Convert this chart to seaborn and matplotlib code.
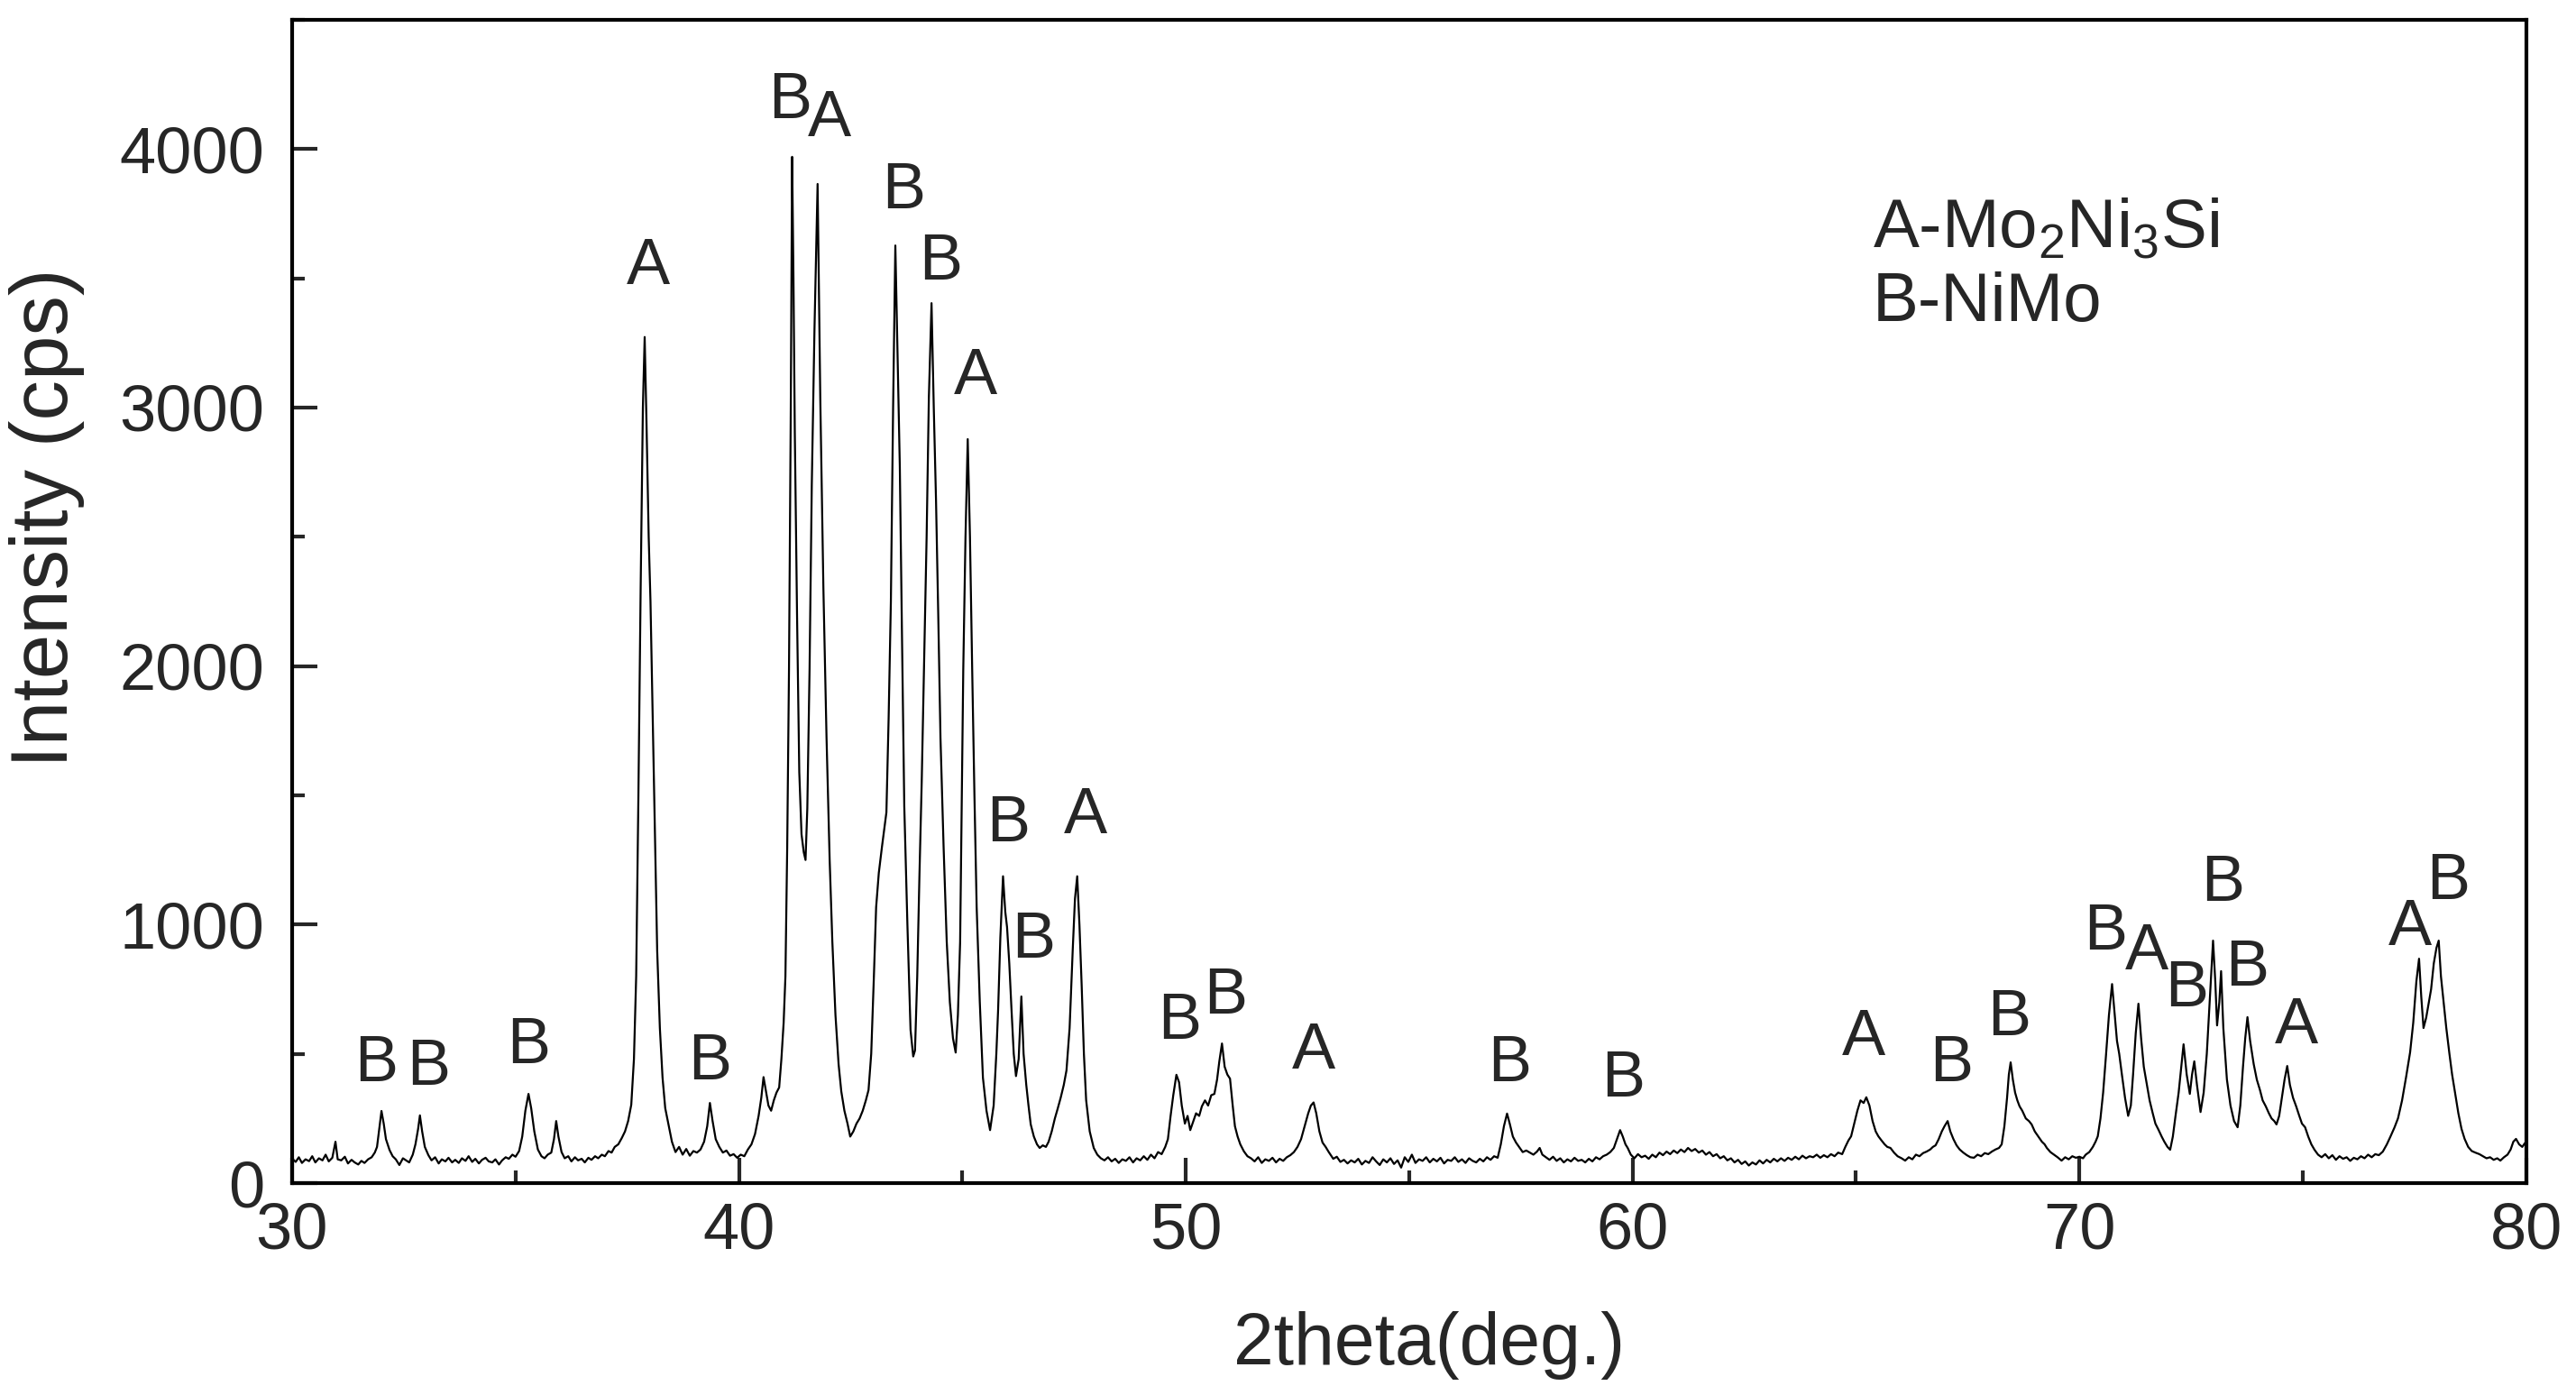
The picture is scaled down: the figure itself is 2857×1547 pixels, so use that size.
import matplotlib
matplotlib.use("Agg")
import matplotlib.pyplot as plt
from matplotlib.ticker import MultipleLocator
import pandas as pd
import seaborn as sns

# XRD trace (2theta in deg., intensity in cps)
two_theta = [
    30.00, 30.08, 30.15, 30.22, 30.30, 30.38, 30.45, 30.52, 30.60, 30.68, 30.75, 30.82, 30.90, 30.97, 31.02,
    31.10, 31.18, 31.25, 31.33, 31.40, 31.48, 31.55, 31.62, 31.70, 31.78, 31.85, 31.90, 31.95, 32.00, 32.05,
    32.10, 32.18, 32.25, 32.32, 32.40, 32.48, 32.55, 32.62, 32.70, 32.76, 32.82, 32.86, 32.91, 32.97, 33.05,
    33.12, 33.20, 33.28, 33.35, 33.43, 33.50, 33.58, 33.65, 33.73, 33.80, 33.88, 33.95, 34.03, 34.10, 34.18,
    34.25, 34.33, 34.40, 34.48, 34.55, 34.63, 34.70, 34.78, 34.85, 34.93, 35.00, 35.08, 35.15, 35.22, 35.29,
    35.35, 35.42, 35.50, 35.58, 35.65, 35.72, 35.80, 35.86, 35.91, 35.96, 36.03, 36.10, 36.18, 36.25, 36.33,
    36.40, 36.48, 36.55, 36.63, 36.70, 36.78, 36.85, 36.93, 37.00, 37.08, 37.15, 37.22, 37.30, 37.38, 37.45,
    37.52, 37.59, 37.65, 37.70, 37.75, 37.80, 37.85, 37.89, 37.93, 37.98, 38.02, 38.07, 38.12, 38.17, 38.23,
    38.29, 38.35, 38.42, 38.50, 38.58, 38.66, 38.74, 38.82, 38.90, 38.98, 39.06, 39.14, 39.22, 39.29, 39.35,
    39.41, 39.48, 39.56, 39.64, 39.72, 39.80, 39.88, 39.96, 40.04, 40.12, 40.20, 40.28, 40.36, 40.44, 40.50,
    40.55, 40.60, 40.66, 40.72, 40.78, 40.84, 40.90, 40.95, 41.00, 41.04, 41.08, 41.12, 41.16, 41.19, 41.22,
    41.25, 41.30, 41.35, 41.40, 41.45, 41.49, 41.53, 41.58, 41.63, 41.69, 41.76, 41.82, 41.89, 41.96, 42.03,
    42.09, 42.16, 42.23, 42.29, 42.36, 42.43, 42.49, 42.56, 42.63, 42.70, 42.77, 42.84, 42.90, 42.96, 43.02,
    43.07, 43.13, 43.20, 43.26, 43.30, 43.35, 43.40, 43.45, 43.50, 43.55, 43.60, 43.65, 43.70, 43.77, 43.84,
    43.90, 43.94, 43.99, 44.04, 44.09, 44.14, 44.20, 44.25, 44.31, 44.36, 44.41, 44.46, 44.51, 44.58, 44.65,
    44.72, 44.79, 44.85, 44.90, 44.95, 45.02, 45.07, 45.12, 45.17, 45.22, 45.27, 45.32, 45.39, 45.46, 45.54,
    45.62, 45.70, 45.76, 45.80, 45.85, 45.91, 45.96, 46.00, 46.05, 46.10, 46.15, 46.20, 46.26, 46.32, 46.37,
    46.43, 46.48, 46.53, 46.60, 46.67, 46.73, 46.80, 46.87, 46.93, 47.00, 47.07, 47.13, 47.20, 47.27, 47.33,
    47.40, 47.47, 47.52, 47.57, 47.62, 47.67, 47.72, 47.77, 47.85, 47.94, 48.02, 48.10, 48.18, 48.26, 48.34,
    48.42, 48.50, 48.58, 48.66, 48.74, 48.82, 48.90, 48.98, 49.06, 49.14, 49.22, 49.30, 49.38, 49.46, 49.54,
    49.60, 49.66, 49.72, 49.79, 49.85, 49.91, 49.98, 50.04, 50.10, 50.17, 50.23, 50.30, 50.36, 50.43, 50.50,
    50.57, 50.64, 50.70, 50.75, 50.81, 50.87, 50.93, 50.99, 51.05, 51.10, 51.16, 51.22, 51.30, 51.38, 51.46,
    51.54, 51.62, 51.70, 51.78, 51.86, 51.94, 52.02, 52.10, 52.18, 52.26, 52.34, 52.42, 52.50, 52.58, 52.66,
    52.74, 52.80, 52.86, 52.92, 52.99, 53.06, 53.13, 53.20, 53.30, 53.38, 53.46, 53.54, 53.62, 53.70, 53.78,
    53.86, 53.94, 54.02, 54.10, 54.18, 54.26, 54.34, 54.42, 54.50, 54.58, 54.66, 54.74, 54.82, 54.90, 54.98,
    55.06, 55.14, 55.22, 55.30, 55.38, 55.46, 55.54, 55.62, 55.70, 55.78, 55.86, 55.94, 56.02, 56.10, 56.18,
    56.26, 56.34, 56.42, 56.50, 56.58, 56.66, 56.74, 56.82, 56.90, 56.98, 57.05, 57.12, 57.19, 57.25, 57.32,
    57.39, 57.46, 57.54, 57.62, 57.70, 57.78, 57.86, 57.92, 57.98, 58.06, 58.14, 58.22, 58.30, 58.38, 58.46,
    58.54, 58.62, 58.70, 58.78, 58.86, 58.94, 59.02, 59.10, 59.18, 59.26, 59.34, 59.42, 59.50, 59.58, 59.65,
    59.72, 59.78, 59.84, 59.89, 59.96, 60.04, 60.12, 60.20, 60.28, 60.36, 60.44, 60.52, 60.60, 60.68, 60.76,
    60.84, 60.92, 61.00, 61.08, 61.16, 61.24, 61.32, 61.40, 61.48, 61.56, 61.64, 61.72, 61.80, 61.88, 61.96,
    62.04, 62.12, 62.20, 62.28, 62.36, 62.44, 62.52, 62.60, 62.68, 62.76, 62.84, 62.92, 63.00, 63.08, 63.16,
    63.24, 63.32, 63.40, 63.48, 63.56, 63.64, 63.72, 63.80, 63.88, 63.96, 64.04, 64.12, 64.20, 64.28, 64.36,
    64.44, 64.52, 64.60, 64.69, 64.76, 64.83, 64.89, 64.96, 65.03, 65.10, 65.17, 65.23, 65.30, 65.37, 65.44,
    65.50, 65.57, 65.64, 65.70, 65.77, 65.85, 65.93, 66.02, 66.10, 66.18, 66.26, 66.34, 66.42, 66.50, 66.58,
    66.66, 66.72, 66.78, 66.85, 66.92, 66.98, 67.05, 67.11, 67.18, 67.25, 67.32, 67.40, 67.48, 67.56, 67.64,
    67.72, 67.80, 67.88, 67.96, 68.04, 68.12, 68.20, 68.26, 68.32, 68.38, 68.42, 68.46, 68.51, 68.56, 68.61,
    68.66, 68.72, 68.80, 68.87, 68.93, 69.00, 69.08, 69.16, 69.22, 69.27, 69.35, 69.43, 69.51, 69.60, 69.68,
    69.76, 69.84, 69.92, 70.00, 70.08, 70.14, 70.22, 70.30, 70.36, 70.41, 70.47, 70.53, 70.59, 70.66, 70.73,
    70.79, 70.84, 70.89, 70.95, 71.02, 71.09, 71.15, 71.20, 71.26, 71.32, 71.38, 71.44, 71.50, 71.57, 71.64,
    71.70, 71.77, 71.84, 71.90, 71.97, 72.03, 72.09, 72.15, 72.22, 72.28, 72.33, 72.40, 72.47, 72.52, 72.57,
    72.63, 72.71, 72.78, 72.85, 72.92, 72.99, 73.04, 73.08, 73.13, 73.17, 73.22, 73.30, 73.38, 73.46, 73.54,
    73.60, 73.66, 73.71, 73.76, 73.82, 73.90, 73.97, 74.04, 74.10, 74.17, 74.24, 74.30, 74.36, 74.41, 74.47,
    74.53, 74.59, 74.65, 74.71, 74.78, 74.85, 74.92, 74.98, 75.05, 75.12, 75.19, 75.26, 75.34, 75.42, 75.50,
    75.58, 75.66, 75.74, 75.82, 75.90, 75.98, 76.06, 76.14, 76.22, 76.30, 76.38, 76.46, 76.54, 76.62, 76.70,
    76.79, 76.88, 76.96, 77.05, 77.13, 77.22, 77.31, 77.40, 77.47, 77.54, 77.60, 77.65, 77.70, 77.76, 77.82,
    77.87, 77.93, 77.99, 78.04, 78.09, 78.15, 78.21, 78.28, 78.34, 78.41, 78.48, 78.55, 78.62, 78.70, 78.78,
    78.86, 78.95, 79.03, 79.11, 79.19, 79.27, 79.35, 79.42, 79.50, 79.58, 79.65, 79.71, 79.77, 79.84, 79.91,
    79.97, 80.00,
]
intensity = [
    95, 82, 100, 78, 92, 85, 104, 80, 96, 88, 110, 84, 98, 160, 92,
    88, 102, 76, 90, 80, 72, 86, 78, 92, 100, 118, 140, 210, 279, 230,
    170, 128, 104, 92, 70, 96, 88, 80, 110, 150, 210, 262, 200, 140, 108,
    88, 100, 76, 92, 84, 98, 80, 90, 78, 96, 86, 104, 82, 94, 76,
    90, 98, 84, 80, 92, 72, 88, 100, 94, 110, 102, 124, 180, 280, 345,
    290, 200, 130, 104, 96, 110, 118, 170, 240, 180, 120, 96, 104, 84, 100,
    88, 94, 80, 98, 90, 104, 96, 110, 104, 124, 118, 140, 150, 175, 200,
    240, 303, 480, 800, 1500, 2300, 3000, 3273, 2950, 2500, 2250, 1800, 1350, 900, 600,
    408, 290, 230, 160, 120, 140, 110, 132, 106, 124, 118, 130, 160, 220, 310,
    240, 170, 140, 118, 126, 106, 112, 98, 110, 104, 130, 150, 190, 260, 330,
    410, 360, 300, 280, 320, 350, 370, 480, 620, 800, 1300, 1985, 3000, 3970, 3500,
    2905, 2200, 1590, 1350, 1280, 1250, 1450, 1985, 2700, 3300, 3865, 3038, 2300, 1723, 1250,
    934, 650, 460, 355, 280, 230, 180, 200, 230, 250, 280, 320, 360, 500, 800,
    1067, 1200, 1300, 1380, 1434, 1800, 2250, 3000, 3627, 3200, 2773, 2100, 1458, 1000, 593,
    490, 513, 800, 1196, 1550, 1985, 2500, 3038, 3404, 3000, 2644, 2200, 1723, 1300, 934,
    700, 560, 505, 650, 934, 1985, 2500, 2878, 2500, 1985, 1500, 1067, 700, 408, 280,
    205, 300, 500, 670, 950, 1187, 1050, 990, 850, 670, 500, 414, 480, 722, 500,
    380, 300, 227, 180, 150, 136, 146, 140, 160, 200, 250, 286, 330, 380, 436,
    600, 903, 1100, 1187, 1000, 764, 500, 321, 200, 136, 110, 96, 88, 100, 84,
    94, 78, 92, 86, 100, 80, 96, 88, 104, 90, 110, 96, 120, 112, 140,
    170, 260, 340, 419, 390, 300, 230, 260, 205, 240, 270, 260, 297, 320, 300,
    340, 345, 400, 470, 540, 450, 420, 404, 300, 220, 180, 150, 123, 104, 96,
    84, 100, 78, 92, 86, 98, 80, 94, 86, 100, 108, 120, 140, 170, 220,
    270, 300, 312, 270, 200, 157, 140, 120, 94, 102, 82, 90, 76, 88, 80,
    94, 72, 86, 78, 100, 84, 70, 92, 80, 96, 74, 88, 60, 100, 82,
    110, 78, 92, 86, 100, 80, 94, 84, 98, 76, 90, 86, 100, 82, 92,
    78, 96, 86, 80, 94, 84, 100, 90, 104, 98, 150, 220, 269, 230, 180,
    157, 140, 120, 126, 118, 110, 122, 136, 110, 100, 90, 102, 86, 96, 80,
    92, 84, 98, 86, 90, 80, 94, 84, 100, 92, 104, 110, 120, 136, 170,
    205, 180, 150, 136, 110, 96, 112, 100, 106, 94, 110, 100, 118, 108, 122,
    112, 126, 116, 130, 120, 136, 124, 132, 118, 126, 110, 120, 104, 112, 96,
    104, 88, 96, 80, 90, 74, 84, 68, 80, 72, 88, 76, 90, 80, 94,
    84, 96, 86, 98, 90, 102, 92, 106, 96, 104, 100, 110, 98, 108, 100,
    112, 104, 118, 112, 140, 165, 181, 230, 280, 320, 310, 332, 300, 240, 200,
    181, 165, 150, 140, 136, 118, 104, 96, 87, 100, 92, 110, 104, 116, 122,
    130, 140, 146, 170, 200, 220, 240, 200, 170, 146, 130, 118, 108, 100, 98,
    110, 104, 116, 112, 122, 130, 136, 150, 220, 330, 420, 467, 400, 350, 320,
    297, 280, 250, 240, 227, 200, 180, 160, 150, 136, 120, 110, 100, 87, 100,
    92, 104, 98, 102, 96, 110, 120, 140, 160, 181, 250, 350, 485, 650, 770,
    650, 550, 500, 420, 330, 260, 300, 420, 580, 694, 560, 450, 391, 320, 270,
    230, 206, 180, 160, 140, 129, 180, 260, 350, 450, 537, 420, 345, 420, 471,
    380, 275, 350, 500, 720, 938, 780, 610, 700, 820, 600, 401, 300, 240, 216,
    300, 450, 560, 642, 550, 460, 400, 360, 320, 297, 270, 250, 240, 227, 260,
    330, 400, 453, 380, 330, 297, 260, 230, 216, 180, 150, 129, 110, 100, 112,
    96, 108, 90, 104, 94, 100, 86, 98, 92, 104, 96, 110, 100, 112, 108,
    122, 150, 180, 215, 251, 320, 410, 506, 620, 780, 868, 720, 600, 640, 700,
    750, 850, 910, 938, 800, 700, 600, 500, 420, 345, 270, 210, 171, 140, 124,
    118, 112, 104, 96, 100, 90, 96, 87, 100, 110, 130, 160, 171, 150, 140,
    155, 150,
]

# phase labels: letter, 2theta, intensity of the letter centre
peak_letters = ["B", "B", "B", "A", "B", "B", "A", "B", "B", "A", "B", "B", "A", "B",
                "B", "A", "B", "B", "A", "B", "B", "B", "A", "B", "B", "B", "A", "A", "B"]
peak_x = [31.88, 33.05, 35.29, 37.98, 39.34, 41.14, 42.02, 43.68, 44.52, 45.29, 46.03, 46.58, 47.76, 49.85,
          50.88, 52.87, 57.24, 59.78, 65.18, 67.13, 68.42, 70.58, 71.50, 72.39, 73.20, 73.75, 74.85, 77.39, 78.24]
peak_y = [458, 445, 528, 3542, 464, 4184, 4114, 3835, 3561, 3116, 1386, 935, 1418, 623,
          719, 509, 458, 401, 560, 458, 636, 967, 890, 750, 1157, 827, 604, 986, 1164]

legend_lines = ["A-Mo$_2$Ni$_3$Si", "B-NiMo"]

sns.set_style("ticks")
plt.rcParams["font.family"] = ["Liberation Sans", "DejaVu Sans"]
plt.rcParams["mathtext.default"] = "regular"

df = pd.DataFrame({"two_theta": two_theta, "intensity": intensity})

fig = plt.figure(figsize=(28.57, 15.47), dpi=100)
ax = fig.add_axes([0.1134, 0.1519, 0.8673, 0.8339])

sns.lineplot(data=df, x="two_theta", y="intensity", ax=ax, color="black",
             linewidth=1.6, estimator=None, sort=False)

ax.set_xlim(30, 80)
ax.set_ylim(0, 4500)
ax.xaxis.set_major_locator(MultipleLocator(10))
ax.xaxis.set_minor_locator(MultipleLocator(5))
ax.yaxis.set_major_locator(MultipleLocator(1000))
ax.yaxis.set_minor_locator(MultipleLocator(500))
ax.tick_params(which="both", direction="in", width=3, top=False, right=False)
ax.tick_params(which="major", length=20)
ax.tick_params(which="minor", length=10)
ax.tick_params(axis="x", labelsize=52, pad=15)
ax.tick_params(axis="y", labelsize=52, pad=22)
for s in ax.spines.values():
    s.set_linewidth(3)
    s.set_color("black")

ax.set_xlabel("2theta(deg.)", fontsize=58)
ax.set_ylabel("Intensity (cps)", fontsize=64)
ax.xaxis.set_label_coords(0.509, -0.11)
ax.yaxis.set_label_coords(-0.093, 0.572)

for letter, px, py in zip(peak_letters, peak_x, peak_y):
    ax.text(px, py, letter, fontsize=52, ha="center", va="center")

ax.text(65.37, 3688, legend_lines[0], fontsize=55, ha="left", va="center")
ax.text(65.37, 3402, legend_lines[1], fontsize=55, ha="left", va="center")

plt.savefig("out.png", dpi=100)
